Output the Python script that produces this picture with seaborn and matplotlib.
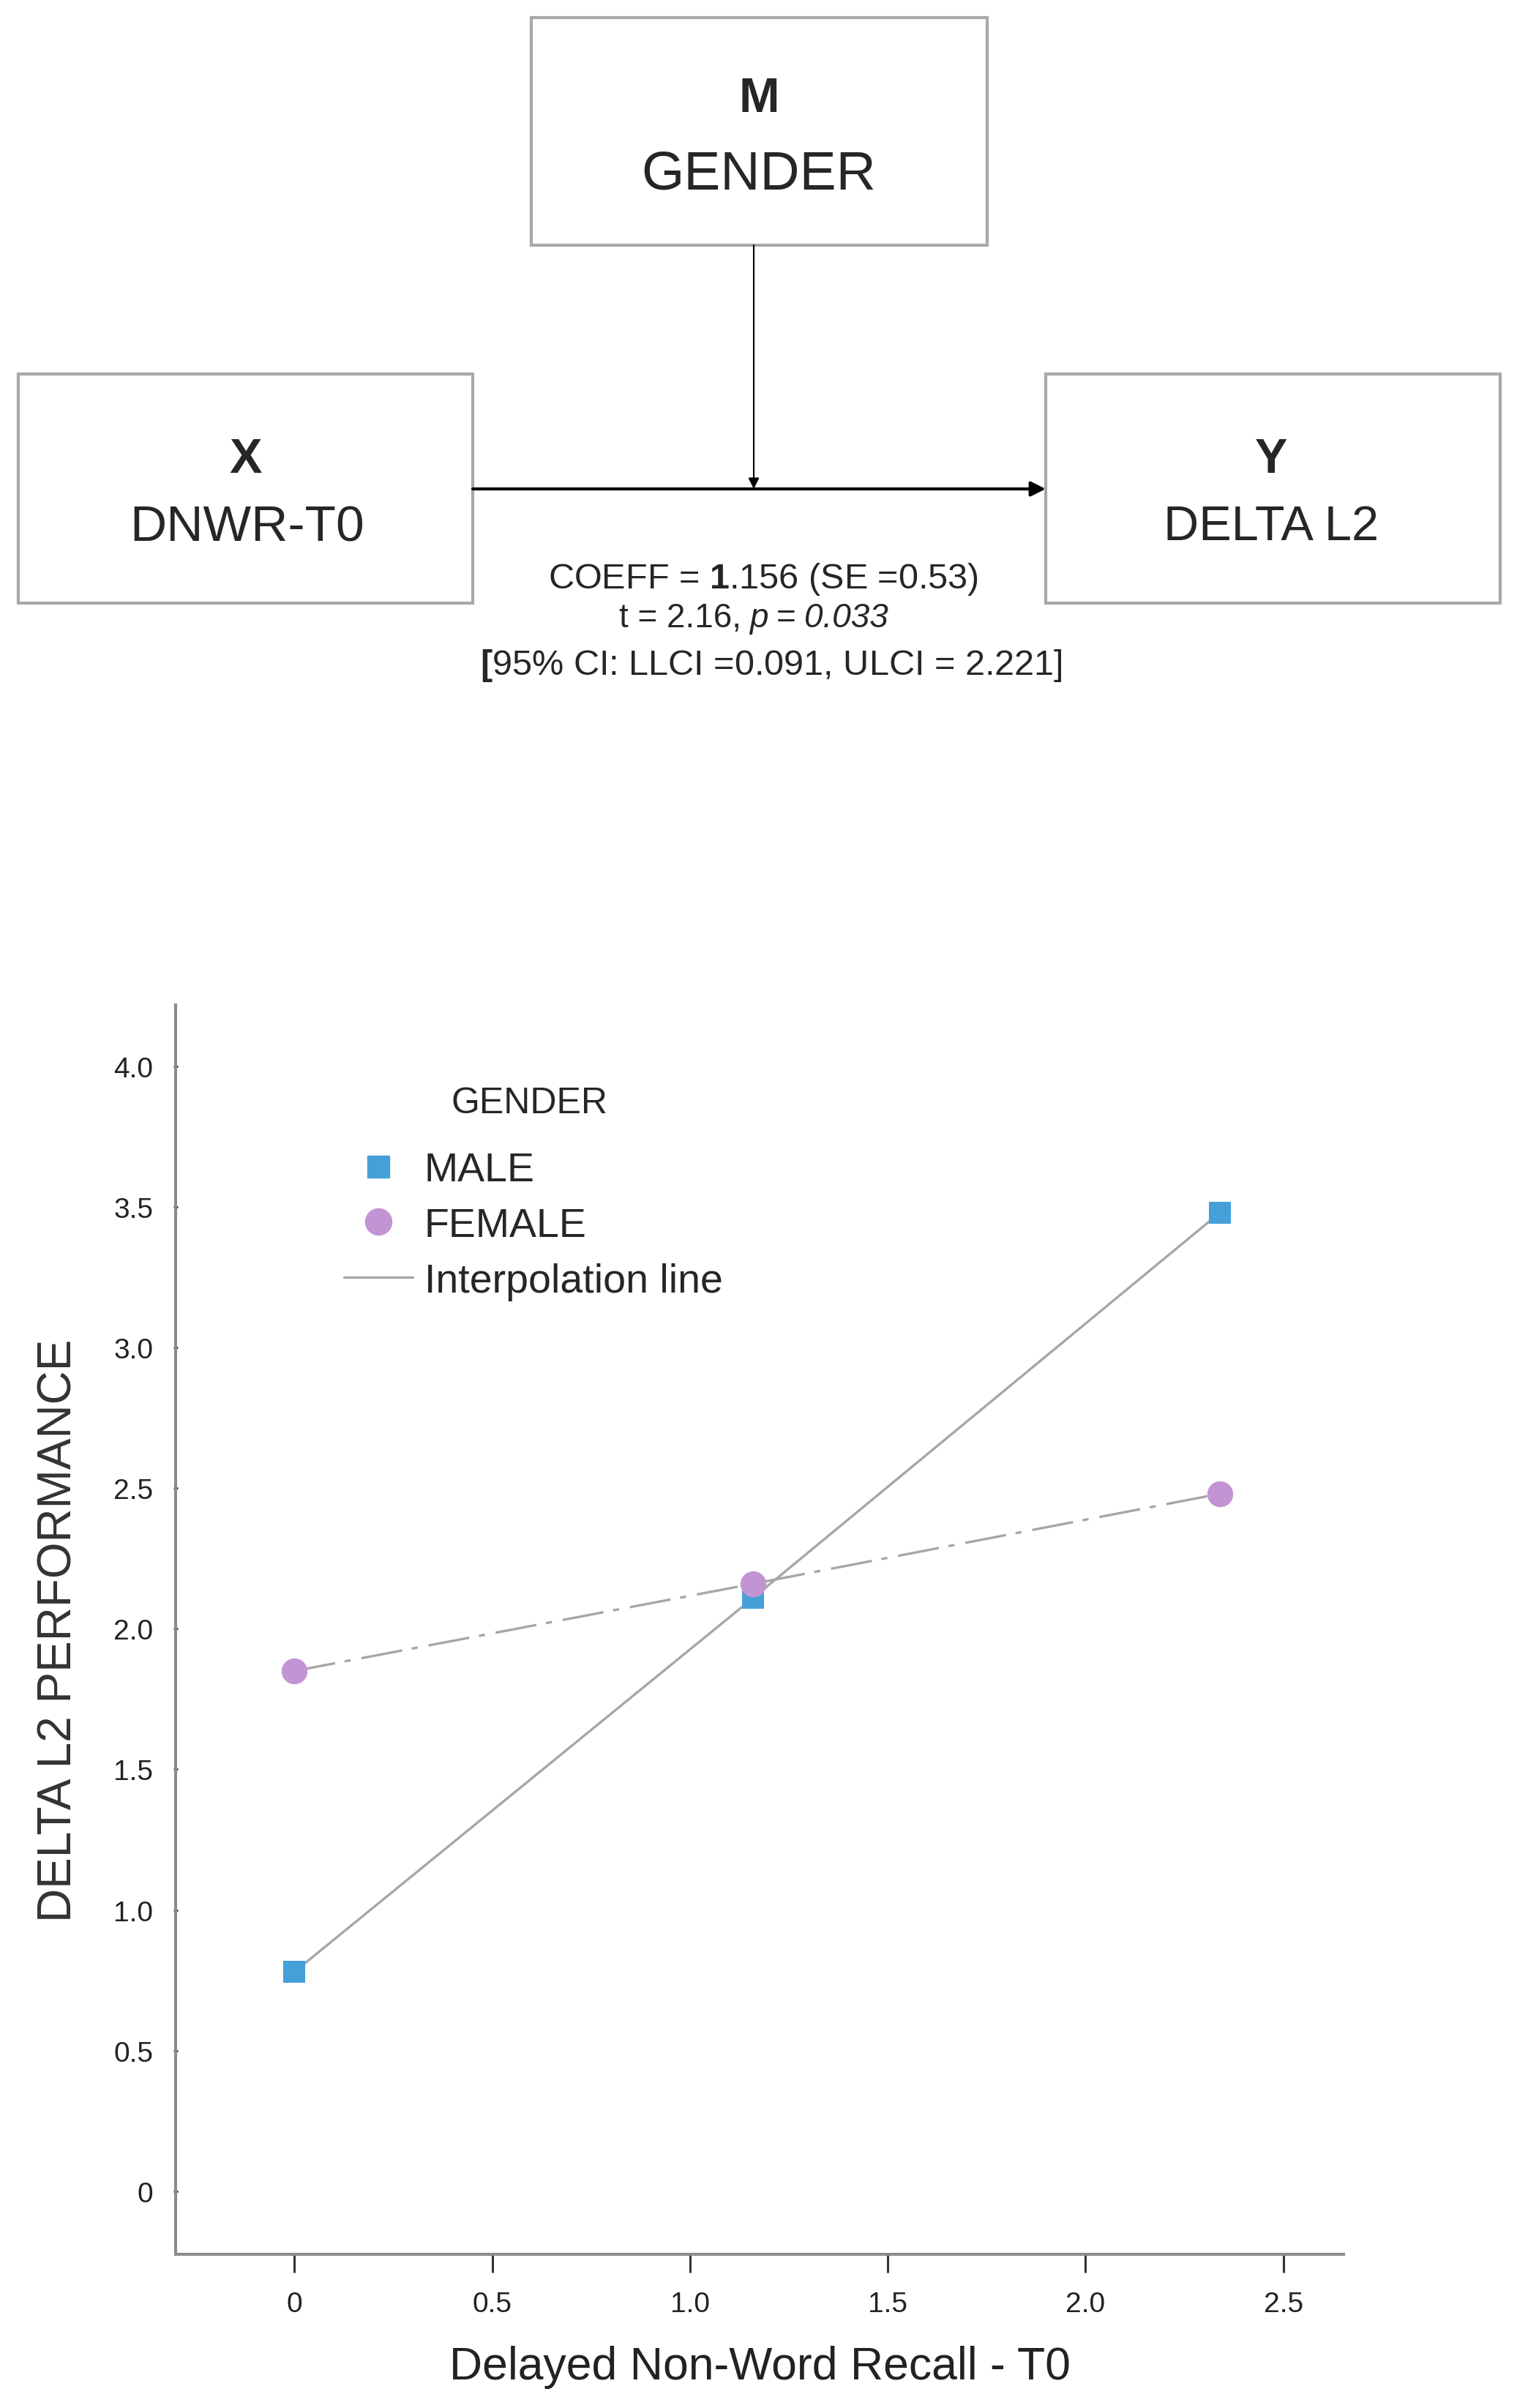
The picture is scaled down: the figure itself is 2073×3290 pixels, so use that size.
import pandas as pd
import seaborn as sns
import matplotlib.pyplot as plt
from matplotlib.patches import Rectangle
from matplotlib.lines import Line2D

# values
recall = [0.0, 1.16, 2.34]
male = [0.78, 2.11, 3.48]
female = [1.85, 2.16, 2.48]
groups = ["MALE", "FEMALE"]
x_ticks = [0, 0.5, 1.0, 1.5, 2.0, 2.5]
x_tick_labels = ["0", "0.5", "1.0", "1.5", "2.0", "2.5"]
y_ticks = [0, 0.5, 1.0, 1.5, 2.0, 2.5, 3.0, 3.5, 4.0]
y_tick_labels = ["0", "0.5", "1.0", "1.5", "2.0", "2.5", "3.0", "3.5", "4.0"]

df = pd.DataFrame({
    "recall": recall + recall,
    "delta": male + female,
    "gender": [groups[0]] * len(recall) + [groups[1]] * len(recall),
})

sns.set_theme(style="white")
plt.rcParams["font.family"] = ["Liberation Sans", "DejaVu Sans"]
plt.rcParams["mathtext.fontset"] = "custom"
plt.rcParams["mathtext.rm"] = "Liberation Sans"
plt.rcParams["mathtext.it"] = "Liberation Sans:italic"
plt.rcParams["mathtext.bf"] = "Liberation Sans:bold"

W, H = 2073, 3291
fig = plt.figure(figsize=(W / 100, H / 100), dpi=100)

# ---- moderation diagram (pixel coordinates) ----
dax = fig.add_axes([0, 1 - 960 / H, 1, 960 / H])
dax.set_xlim(0, W)
dax.set_ylim(960, 0)
dax.axis("off")

box_col = "#a8a8a8"
for x0, y0, x1, y1 in [(726, 25, 1349, 336), (25, 512, 646, 825), (1429, 512, 2050, 825)]:
    dax.add_patch(Rectangle((x0, y0), x1 - x0, y1 - y0, fill=False, ec=box_col, lw=3))

dax.text(1037, 136, "M", ha="center", va="center", fontsize=48, fontweight="bold")
dax.text(1037, 239, "GENDER", ha="center", va="center", fontsize=54)
dax.text(336, 629, "X", ha="center", va="center", fontsize=48, fontweight="bold")
dax.text(338, 721, "DNWR-T0", ha="center", va="center", fontsize=50)
dax.text(1737, 629, "Y", ha="center", va="center", fontsize=48, fontweight="bold")
dax.text(1737, 721, "DELTA L2", ha="center", va="center", fontsize=48)

dax.annotate("", xy=(1429, 669), xytext=(646, 669),
             arrowprops=dict(arrowstyle="-|>", color="black", lw=3, mutation_scale=30,
                             shrinkA=0, shrinkB=0))
dax.annotate("", xy=(1030, 669), xytext=(1030, 336),
             arrowprops=dict(arrowstyle="-|>", color="black", lw=1.5, mutation_scale=22,
                             shrinkA=0, shrinkB=0))

dax.text(1043, 792, r"COEFF = $\mathbf{1}$.156 (SE =0.53)", ha="center", va="center", fontsize=35)
dax.text(1054, 909, r"$\mathbf{[}$95% CI: LLCI =0.091, ULCI = 2.221]", ha="center", va="center", fontsize=35)

# second line: italic p and p-value, pieces chained and then centred
sp = 11
t0 = dax.text(0, 845, "t = 2.16,", ha="left", va="center", fontsize=33)
t1 = dax.annotate("p", xy=(1, 0), xycoords=t0, xytext=(sp, 0), textcoords="offset pixels",
                  ha="left", va="bottom", fontsize=33, fontstyle="italic")
t2 = dax.annotate("=", xy=(1, 0), xycoords=t1, xytext=(sp, 0), textcoords="offset pixels",
                  ha="left", va="bottom", fontsize=33)
t3 = dax.annotate("0.033", xy=(1, 0), xycoords=t2, xytext=(sp, 0), textcoords="offset pixels",
                  ha="left", va="bottom", fontsize=33, fontstyle="italic")
fig.canvas.draw()
width = t3.get_window_extent().x1 - t0.get_window_extent().x0
t0.set_x(1030 - width / 2)

# ---- interaction plot ----
ax = fig.add_axes([240 / W, 1 - 3081 / H, 1596 / W, 1707 / H])

line_col = "#a6a6a6"
blue = "#45a0d8"
purple = "#c394d4"

sns.lineplot(data=df, x="recall", y="delta", hue="gender", style="gender",
             palette={"MALE": line_col, "FEMALE": line_col},
             dashes={"MALE": "", "FEMALE": (17, 4, 2.5, 4.5)},
             lw=2.4, legend=False, ax=ax, zorder=2)
sns.scatterplot(data=df[df.gender == "MALE"], x="recall", y="delta", marker="s",
                color=blue, s=470, linewidth=0, legend=False, ax=ax, zorder=3)
sns.scatterplot(data=df[df.gender == "FEMALE"], x="recall", y="delta", marker="o",
                color=purple, s=650, linewidth=0, legend=False, ax=ax, zorder=4)

ax.set_xlim(-0.30, 2.652)
ax.set_ylim(-0.224, 4.218)
ax.set_xticks(x_ticks)
ax.set_xticklabels(x_tick_labels)
ax.set_yticks(y_ticks)
ax.set_yticklabels(y_tick_labels)

sns.despine(ax=ax)
for side in ["left", "bottom"]:
    ax.spines[side].set_color("#8a8a8a")
    ax.spines[side].set_linewidth(2.9)

ax.tick_params(axis="x", bottom=True, direction="out", length=18, width=2.2,
               color="#333333", pad=18, labelsize=28, labelcolor="#222222")
ax.tick_params(axis="y", left=True, direction="inout", length=4, width=2,
               color="#333333", pad=20, labelsize=28, labelcolor="#222222")

ax.set_xlabel("Delayed Non-Word Recall - T0", fontsize=45, color="#222222")
ax.set_ylabel("DELTA L2 PERFORMANCE", fontsize=46, color="#333333")
ax.xaxis.set_label_coords(0.5, -0.0727)
ax.yaxis.set_label_coords(-0.081, 0.5)

handles = [
    Line2D([], [], ls="none", marker="s", ms=21, mfc=blue, mec=blue),
    Line2D([], [], ls="none", marker="o", ms=26, mfc=purple, mec=purple),
    Line2D([], [], color=line_col, lw=2.4),
]
ax.legend(handles, ["MALE", "FEMALE", "Interpolation line"],
          loc="upper left", bbox_to_anchor=(470 / W, 1 - 1574 / H),
          bbox_transform=fig.transFigure, frameon=False, fontsize=40,
          handlelength=1.7, handletextpad=0.28,
          labelspacing=0.43, borderpad=0, borderaxespad=0)
fig.text(723 / W, 1 - 1508 / H, "GENDER", ha="center", va="center", fontsize=36)

fig.savefig("out.png", dpi=100, facecolor="white")
